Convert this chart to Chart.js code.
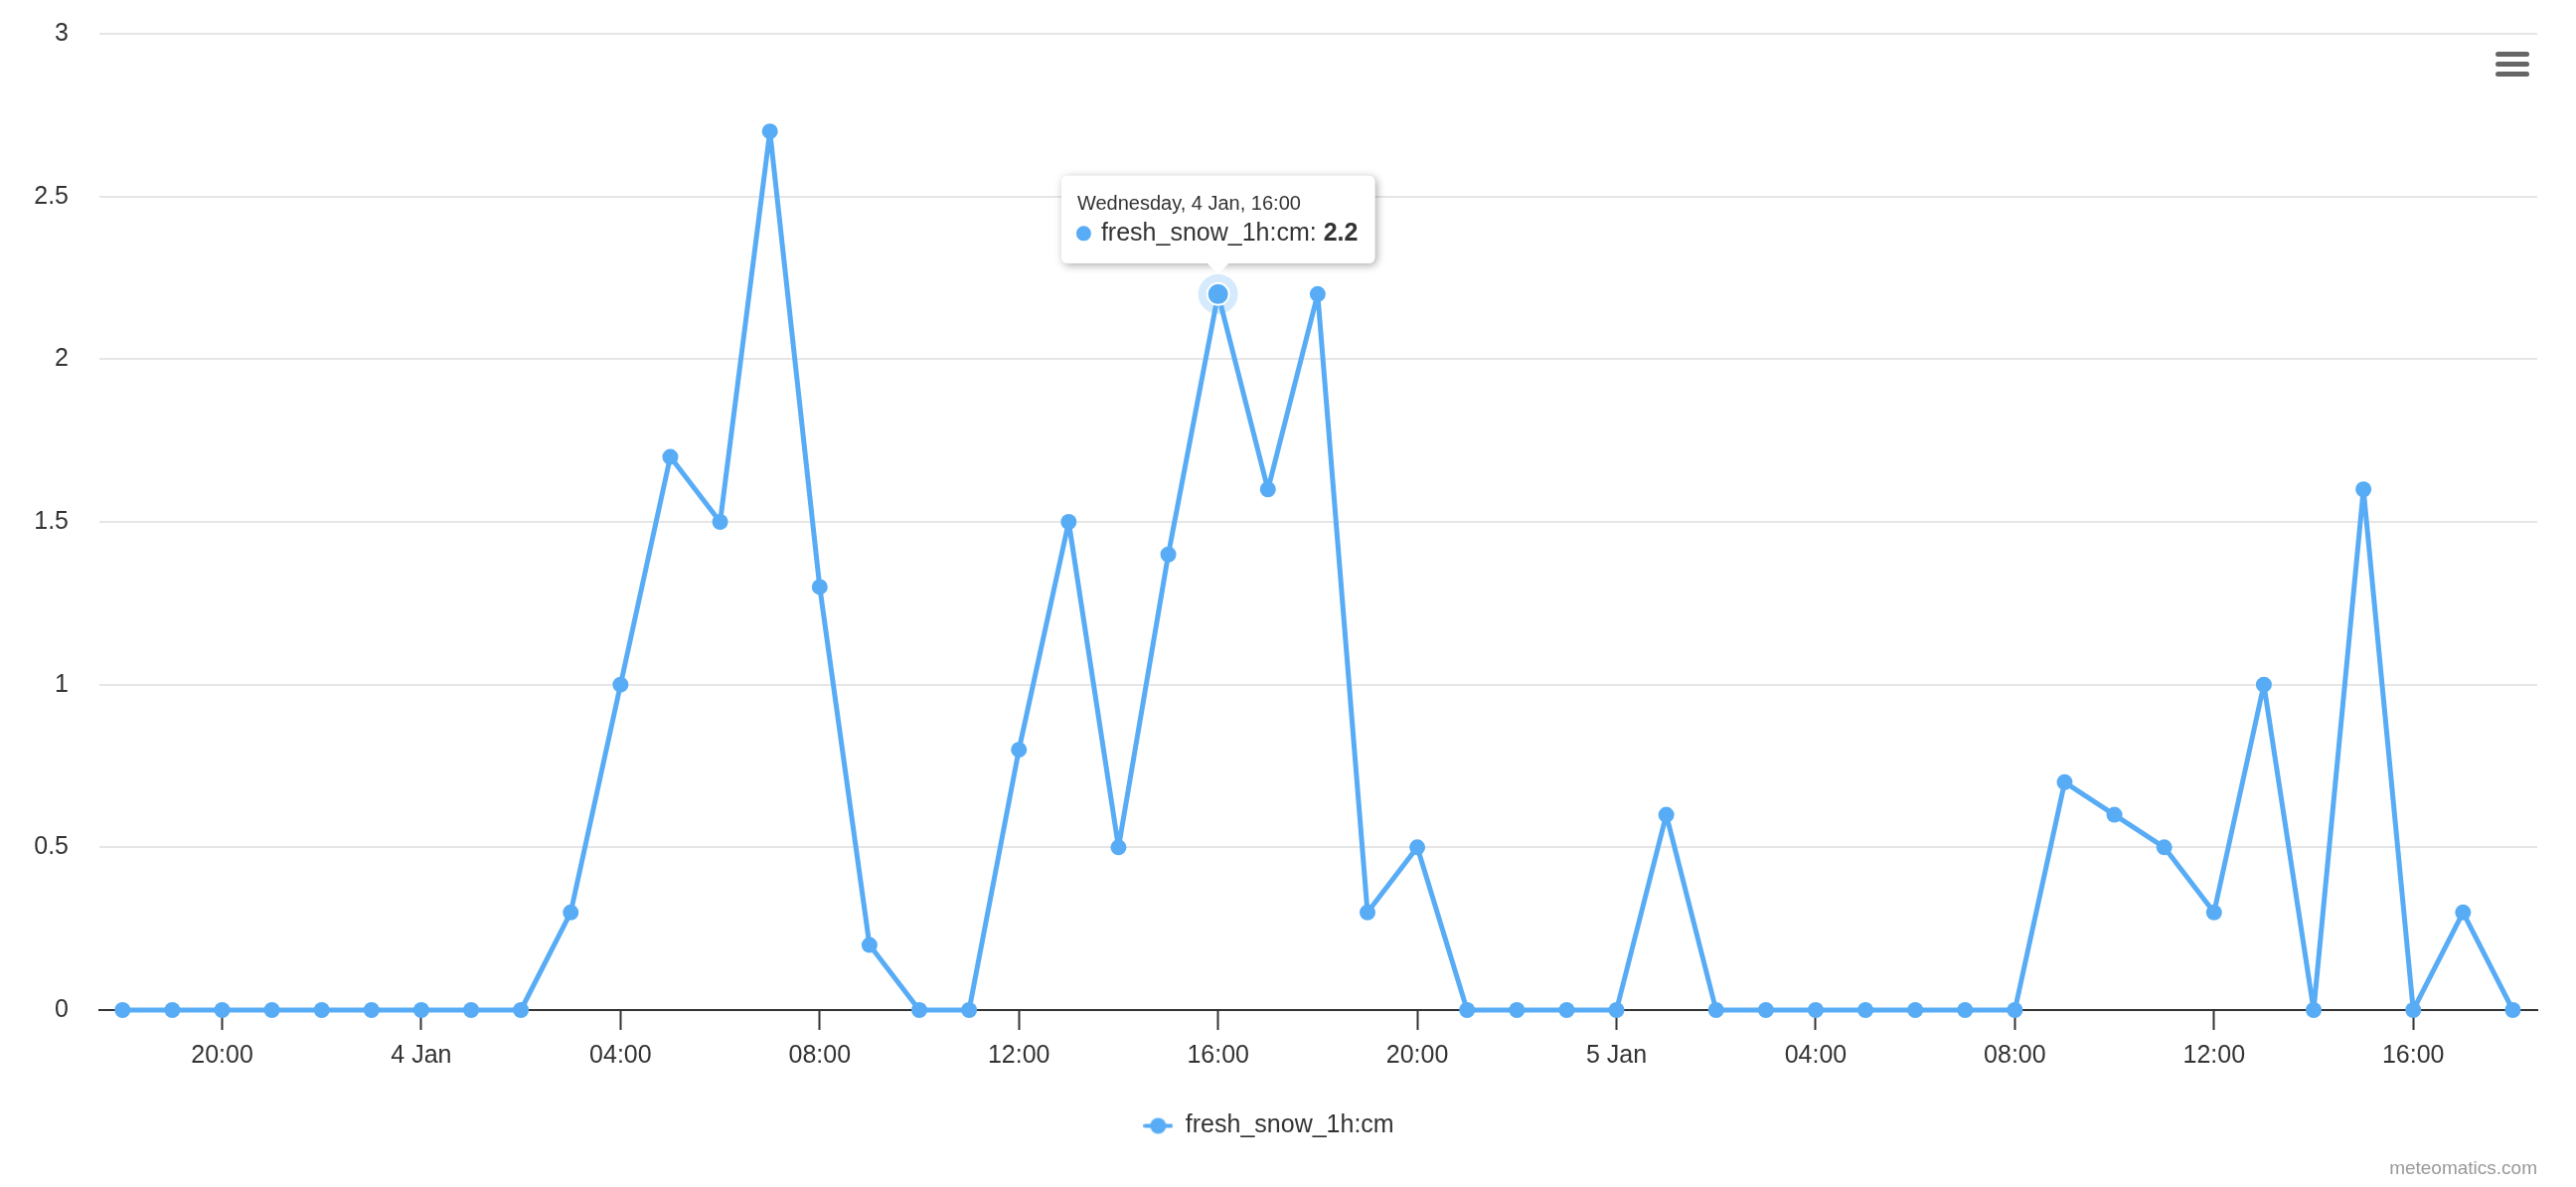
<!DOCTYPE html>
<html>
<head>
<meta charset="utf-8">
<title>fresh_snow_1h:cm</title>
<script src="https://cdn.jsdelivr.net/npm/chart.js@4.4.0/dist/chart.umd.min.js"></script>
<style>
html, body { margin: 0; padding: 0; background: #fff; }
#wrap { position: relative; width: 2592px; height: 1194px; }
#menu { position: absolute; left: 2511px; top: 52px; width: 34px; }
#menu div { height: 5px; border-radius: 3px; background: #666; margin-bottom: 5px; }
#credits { position: absolute; right: 39px; top: 1164px; line-height: 19px;
  font: 19px "Liberation Sans", Arial, Helvetica, sans-serif; color: #999; }
</style>
</head>
<body>
<div id="wrap">
  <canvas id="snow-chart"></canvas>
  <div id="menu"><div></div><div></div><div></div></div>
  <div id="credits">meteomatics.com</div>
</div>
<script>
// hourly values, 3 Jan 18:00 -> 5 Jan 18:00
const snowValues = [
    0, 0, 0, 0, 0, 0, 0, 0, 0,
    0.3, 1.0, 1.7, 1.5, 2.7, 1.3, 0.2, 0, 0,
    0.8, 1.5, 0.5, 1.4, 2.2, 1.6, 2.2, 0.3, 0.5,
    0, 0, 0, 0, 0.6,
    0, 0, 0, 0, 0, 0, 0,
    0.7, 0.6, 0.5, 0.3, 1.0, 0, 1.6, 0, 0.3, 0
];
const seriesName = 'fresh_snow_1h:cm';

// x axis ticks (hour index from first point)
const xTickPos = [2, 6, 10, 14, 18, 22, 26, 30, 34, 38, 42, 46];
const xTickLabels = ['20:00', '4 Jan', '04:00', '08:00', '12:00', '16:00',
                     '20:00', '5 Jan', '04:00', '08:00', '12:00', '16:00'];
const yTicks = [0, 0.5, 1, 1.5, 2, 2.5, 3];

const dayNames = ['Sunday', 'Monday', 'Tuesday', 'Wednesday', 'Thursday', 'Friday', 'Saturday'];
const monthNames = ['Jan', 'Feb', 'Mar', 'Apr', 'May', 'Jun', 'Jul', 'Aug', 'Sep', 'Oct', 'Nov', 'Dec'];
const activeIndex = 22;

const lineColor = '#57acf5';
const fontFamily = '"Liberation Sans", Arial, Helvetica, sans-serif';

// tooltip box settings (also used by the bold-value overlay)
const tipPad = { top: 17, bottom: 15, left: 16, right: 17 };
const tipTitleSize = 20;
const tipBodySize = 25;
const tipBox = 13;
const tipBoxPad = 9;
const tipTitleGap = 2;

function tooltipTitle(i) {
    const d = new Date(2023, 0, 3, 18 + i);
    const hh = String(d.getHours()).padStart(2, '0');
    return `${dayNames[d.getDay()]}, ${d.getDate()} ${monthNames[d.getMonth()]}, ${hh}:00`;
}

// legend symbol: short line with a marker
const legendIcon = document.createElement('canvas');
legendIcon.width = 30;
legendIcon.height = 18;
const ic = legendIcon.getContext('2d');
ic.strokeStyle = lineColor;
ic.lineWidth = 4;
ic.lineCap = 'round';
ic.beginPath(); ic.moveTo(2, 9); ic.lineTo(28, 9); ic.stroke();
ic.fillStyle = lineColor;
ic.beginPath(); ic.arc(15, 9, 8, 0, Math.PI * 2); ic.fill();

// light halo under the hovered point
const haloPlugin = {
    id: 'halo',
    beforeDatasetsDraw(chart) {
        const ctx = chart.ctx;
        chart.getActiveElements().forEach(a => {
            ctx.save();
            ctx.fillStyle = 'rgba(87,172,245,0.25)';
            ctx.beginPath();
            ctx.arc(a.element.x, a.element.y, 20, 0, Math.PI * 2);
            ctx.fill();
            ctx.restore();
        });
    }
};

// soft shadow behind the tooltip box, and the value in bold
const tipStylePlugin = {
    id: 'tipStyle',
    beforeTooltipDraw(chart, args) {
        const t = args.tooltip;
        if (!t.opacity) return;
        const ctx = chart.ctx;
        ctx.save();
        ctx.shadowColor = 'rgba(0,0,0,0.35)';
        ctx.shadowBlur = 8;
        ctx.shadowOffsetX = 2;
        ctx.shadowOffsetY = 2;
        ctx.fillStyle = '#fff';
        ctx.beginPath();
        ctx.roundRect(t.x, t.y, t.width, t.height, 6);
        ctx.fill();
        ctx.restore();
    },
    afterTooltipDraw(chart, args) {
        const t = args.tooltip;
        if (!t.opacity || !t.dataPoints.length) return;
        const ctx = chart.ctx;
        const prefix = `${seriesName}: `;
        const value = String(t.dataPoints[0].parsed.y);
        ctx.save();
        ctx.font = `${tipBodySize}px ${fontFamily}`;
        // chart.js puts body text at boxWidth + 2 + boxPadding
        const textX = t.x + tipPad.left + tipBox + 2 + tipBoxPad + ctx.measureText(prefix).width;
        const textY = t.y + tipPad.top + tipTitleSize * 1.2 + tipTitleGap + tipBodySize * 0.6;
        const w = ctx.measureText(value).width;
        ctx.fillStyle = '#fff';
        ctx.fillRect(textX - 1, textY - tipBodySize * 0.6, w + 3, tipBodySize * 1.2);
        ctx.font = `bold ${tipBodySize}px ${fontFamily}`;
        ctx.fillStyle = '#333';
        ctx.textBaseline = 'middle';
        ctx.textAlign = 'left';
        ctx.fillText(value, textX, textY);
        ctx.restore();
    }
};

const ctx = document.getElementById('snow-chart').getContext('2d');
const chart = new Chart(ctx, {
    type: 'line',
    data: {
        datasets: [{
            label: seriesName,
            data: snowValues.map((v, i) => ({ x: i, y: v })),
            borderColor: lineColor,
            backgroundColor: lineColor,
            borderWidth: 5,
            borderJoinStyle: 'round',
            borderCapStyle: 'round',
            pointRadius: 8,
            pointBorderWidth: 0,
            pointBackgroundColor: lineColor,
            pointHoverRadius: 11,
            pointHoverBorderWidth: 2,
            pointHoverBorderColor: '#fff',
            pointHoverBackgroundColor: lineColor,
            tension: 0,
            clip: false
        }]
    },
    options: {
        responsive: true,
        maintainAspectRatio: false,
        animation: false,
        events: [],
        layout: { padding: { top: 34, right: 39, bottom: 39, left: 0 } },
        plugins: {
            legend: {
                position: 'bottom',
                labels: {
                    usePointStyle: true,
                    pointStyle: legendIcon,
                    pointStyleWidth: 30,
                    color: '#333',
                    padding: 10,
                    font: { family: fontFamily, size: 25 }
                }
            },
            tooltip: {
                enabled: true,
                backgroundColor: 'rgba(255,255,255,0.97)',
                titleColor: '#333',
                bodyColor: '#333',
                titleFont: { family: fontFamily, size: tipTitleSize, weight: 'normal' },
                bodyFont: { family: fontFamily, size: tipBodySize },
                titleMarginBottom: tipTitleGap,
                padding: tipPad,
                cornerRadius: 6,
                caretSize: 11,
                caretPadding: 20,
                xAlign: 'center',
                yAlign: 'bottom',
                displayColors: true,
                usePointStyle: true,
                boxWidth: tipBox,
                boxHeight: tipBox,
                boxPadding: tipBoxPad,
                callbacks: {
                    title: items => tooltipTitle(items[0].dataIndex),
                    label: item => `${seriesName}: ${item.parsed.y}`,
                    labelColor: () => ({ borderColor: lineColor, backgroundColor: lineColor }),
                    labelPointStyle: () => ({ pointStyle: 'circle', rotation: 0 })
                }
            }
        },
        scales: {
            x: {
                type: 'linear',
                min: -0.465,
                max: 48.49,
                afterBuildTicks: scale => { scale.ticks = xTickPos.map(v => ({ value: v })); },
                afterFit: scale => { scale.height = 94; },
                grid: {
                    display: true,
                    drawOnChartArea: false,
                    drawTicks: true,
                    tickLength: 20,
                    tickColor: '#333',
                    tickWidth: 2
                },
                border: { display: true, color: '#333', width: 2 },
                ticks: {
                    autoSkip: false,
                    maxRotation: 0,
                    padding: 11,
                    color: '#333',
                    font: { family: fontFamily, size: 25 },
                    callback: value => xTickLabels[xTickPos.indexOf(value)]
                }
            },
            y: {
                min: yTicks[0],
                max: yTicks[yTicks.length - 1],
                afterBuildTicks: scale => { scale.ticks = yTicks.map(v => ({ value: v })); },
                afterFit: scale => {
                    scale.width = 100;
                    // the label gap should not push the plot down
                    scale.paddingTop = 0;
                    scale.paddingBottom = 0;
                },
                grid: { color: '#e6e6e6', lineWidth: 2, drawTicks: false },
                border: { display: false },
                ticks: {
                    padding: 31,
                    color: '#333',
                    font: { family: fontFamily, size: 25 },
                    callback: value => String(value)
                }
            }
        }
    },
    plugins: [haloPlugin, tipStylePlugin]
});

// show the tooltip on 4 Jan 16:00 as in the screenshot
const activePoint = chart.getDatasetMeta(0).data[activeIndex];
chart.setActiveElements([{ datasetIndex: 0, index: activeIndex }]);
chart.tooltip.setActiveElements([{ datasetIndex: 0, index: activeIndex }],
    { x: activePoint.x, y: activePoint.y });
chart.update();
</script>
</body>
</html>
